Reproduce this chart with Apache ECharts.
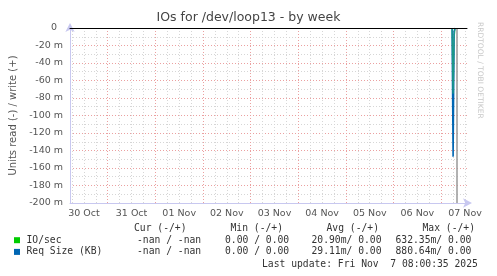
<!DOCTYPE html>
<html><head><meta charset="utf-8">
<script src="https://cdn.jsdelivr.net/npm/echarts@6/dist/echarts.min.js"></script>
<style>html,body{margin:0;padding:0;background:#fff}#c{width:497px;height:276px}</style>
</head><body><div id="c"></div>
<script>
// ---- data (times in UTC ms, values in units; "m" = milli) ----
const H = 3600000;
const t0 = Date.UTC(2025, 9, 30, 5);   // graph start
const t1 = Date.UTC(2025, 10, 7, 13);  // graph end
const dayLabels = ['30 Oct','31 Oct','01 Nov','02 Nov','03 Nov','04 Nov','05 Nov','06 Nov','07 Nov'];
const yTicks = [0,-20,-40,-60,-80,-100,-120,-140,-160,-180,-200];
const ioTimes  = ['2025-11-07T05:30:00Z','2025-11-07T06:00:00Z','2025-11-07T06:30:00Z','2025-11-07T07:00:00Z'];
const ioValues = [0, -0.075, -0.010, 0];
const reqTimes  = ['2025-11-07T05:30:00Z','2025-11-07T06:00:00Z','2025-11-07T06:30:00Z','2025-11-07T07:00:00Z'];
const reqValues = [0, -0.147, -0.004, 0];
const nowTime = '2025-11-07T08:00:35Z';
const legendRows = [
  {name:'IO/sec', color:'#00cc00', cur:'-nan / -nan', min:'0.00 / 0.00', avg:'20.90m/ 0.00', max:'632.35m/ 0.00'},
  {name:'Req Size (KB)', color:'#0066b3', cur:'-nan / -nan', min:'0.00 / 0.00', avg:'29.11m/ 0.00', max:'880.64m/ 0.00'}
];
const lastUpdate = 'Last update: Fri Nov  7 08:00:35 2025';

// ---- derived tick positions ----
const sixH = [], days = [], noons = [];
for (let t = Date.UTC(2025,9,30,6); t < t1; t += 6*H) sixH.push(t);
for (let t = Date.UTC(2025,9,31,0); t < t1; t += 24*H) days.push(t);
for (let i = 0; i < dayLabels.length; i++) noons.push(Date.UTC(2025,9,30,12) + i*24*H);

const pair = (ts, vs) => ts.map((t,i) => [Date.parse(t), vs[i]]);
const chart = echarts.init(document.getElementById('c'), null, {renderer:'canvas'});
const grid = {left:67, right:30, top:28, bottom:73};
const lav = '#c8c8f0';
const mono = '"DejaVu Sans Mono", monospace';
const sans = '"DejaVu Sans", sans-serif';

const graphics = [
  {type:'text', left:'center', top:11, style:{text:'IOs for /dev/loop13 - by week', font:'12.5px '+sans, fill:'#444'}},
  {type:'text', x:484, y:22, rotation:-Math.PI/2, style:{text:'RRDTOOL / TOBI OETIKER', font:'7.5px '+sans, fill:'#c8c8c8'}},
  {type:'text', x:134, y:228.5, style:{text:'Cur (-/+)', font:'9.7px '+mono, fill:'#333', verticalAlign:'middle'}},
  {type:'text', x:230.5, y:228.5, style:{text:'Min (-/+)', font:'9.7px '+mono, fill:'#333', verticalAlign:'middle'}},
  {type:'text', x:326.5, y:228.5, style:{text:'Avg (-/+)', font:'9.7px '+mono, fill:'#333', verticalAlign:'middle'}},
  {type:'text', x:422.5, y:228.5, style:{text:'Max (-/+)', font:'9.7px '+mono, fill:'#333', verticalAlign:'middle'}},
  {type:'text', x:262, y:264.5, style:{text:lastUpdate, font:'9.7px '+mono, fill:'#333', verticalAlign:'middle'}}
];
legendRows.forEach((r, i) => {
  const y = 240.2 + i*11.7;
  graphics.push({type:'rect', shape:{x:14, y:y-3, width:6, height:6}, style:{fill:r.color}});
  graphics.push({type:'text', x:26.5, y:y, style:{text:r.name, font:'9.7px '+mono, fill:'#333', verticalAlign:'middle'}});
  graphics.push({type:'text', x:137, y:y, style:{text:r.cur, font:'9.7px '+mono, fill:'#333', verticalAlign:'middle'}});
  graphics.push({type:'text', x:225, y:y, style:{text:r.min, font:'9.7px '+mono, fill:'#333', verticalAlign:'middle'}});
  graphics.push({type:'text', x:311.5, y:y, style:{text:r.avg, font:'9.7px '+mono, fill:'#333', verticalAlign:'middle'}});
  graphics.push({type:'text', x:395.5, y:y, style:{text:r.max, font:'9.7px '+mono, fill:'#333', verticalAlign:'middle'}});
});

chart.setOption({
  animation:false,
  backgroundColor:'#fff',
  grid: grid,
  xAxis: [
    { // bottom axis with labels
      type:'value', min:t0, max:t1, position:'bottom',
      axisLine:{show:true, onZero:false, lineStyle:{color:lav, width:1}, symbol:['none','arrow'], symbolSize:[7,9], symbolOffset:[0,5]},
      axisTick:{show:false},
      splitLine:{show:false},
      axisLabel:{customValues:noons, margin:6, color:'#555', fontFamily:sans, fontSize:9.5,
        formatter:(v) => dayLabels[Math.round((v - noons[0]) / (24*H))] || ''}
    },
    { // minor vertical grid every 6h
      type:'value', min:t0, max:t1, position:'bottom', show:true,
      axisLine:{show:false}, axisLabel:{show:false},
      axisTick:{show:false, customValues:sixH},
      splitLine:{show:true, lineStyle:{color:'#d6d6d6', type:[1,2], width:1}}
    },
    { // major vertical grid at midnight
      type:'value', min:t0, max:t1, position:'bottom', show:true,
      axisLine:{show:false}, axisLabel:{show:false},
      axisTick:{show:false, customValues:days},
      splitLine:{show:true, lineStyle:{color:'#eba0a0', type:[1,2], width:1}}
    },
    { // zero line at top
      type:'value', min:t0, max:t1, position:'top', z:5,
      axisLine:{show:true, onZero:false, lineStyle:{color:'#000', width:1}},
      axisTick:{show:false}, axisLabel:{show:false}, splitLine:{show:false}
    }
  ],
  yAxis: [{
    type:'value', min:-0.2, max:0, interval:0.02,
    name:'Units read (-) / write (+)', nameLocation:'middle', nameGap:52,
    nameTextStyle:{color:'#555', fontFamily:sans, fontSize:10},
    axisLine:{show:true, onZero:false, lineStyle:{color:lav, width:1}, symbol:['none','arrow'], symbolSize:[7,9], symbolOffset:[0,5]},
    axisTick:{show:false},
    axisLabel:{margin:7, color:'#555', fontFamily:sans, fontSize:9.5,
      formatter:(v) => { const m = Math.round(v*1000); return m === 0 ? '0  ' : m + ' m'; }},
    splitLine:{show:true, lineStyle:{color:'#eba0a0', type:[1,2], width:1}},
    minorTick:{show:false, splitNumber:2},
    minorSplitLine:{show:true, lineStyle:{color:'#d6d6d6', type:[1,2], width:1}}
  }],
  series: [
    {name:'Req Size (KB)', type:'line', data:pair(reqTimes, reqValues), showSymbol:false, z:2,
     lineStyle:{color:'#0066b3', width:1.6}, clip:true,
     markLine:{silent:true, symbol:'none', label:{show:false},
       lineStyle:{color:'#999', width:1.5, type:'solid'}, data:[{xAxis:Date.parse(nowTime)}]}},
    {name:'IO/sec', type:'line', data:pair(ioTimes, ioValues), showSymbol:false, z:3,
     lineStyle:{color:'#20a080', width:1.4, opacity:0.85}, clip:true}
  ],
  graphic: graphics
});
</script></body></html>
